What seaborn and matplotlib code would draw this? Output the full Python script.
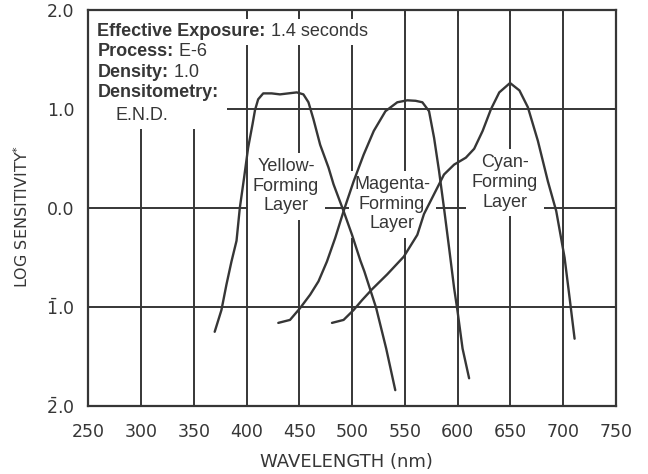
import matplotlib
matplotlib.use("Agg")
import matplotlib.pyplot as plt
import seaborn as sns
import pandas as pd

# values (wavelength in nm, log sensitivity)
yellow_nm = [369.8, 376.2, 381.0, 385.7, 390.5, 393.6, 397.7, 401.5, 405.7, 408.0,
             411.0, 415.8, 423.8, 431.7, 439.6, 447.6, 453.9, 458.7, 463.4, 469.8,
             477.7, 482.5, 492.0, 500.0, 507.9, 511.7, 522.9, 532.4, 541.0]
yellow_log = [-1.25, -1.03, -0.77, -0.54, -0.33, 0.00, 0.31, 0.61, 0.85, 0.99,
              1.10, 1.16, 1.16, 1.15, 1.16, 1.17, 1.15, 1.07, 0.90, 0.64,
              0.41, 0.24, -0.03, -0.27, -0.53, -0.64, -1.01, -1.42, -1.84]

magenta_nm = [430.1, 441.2, 450.8, 460.3, 468.2, 476.2, 484.1, 492.0, 501.5, 511.0,
              520.6, 531.7, 542.9, 552.4, 560.3, 566.7, 573.0, 577.8, 582.5, 587.2,
              592.0, 596.8, 600.0, 604.8, 611.0]
magenta_log = [-1.16, -1.13, -1.01, -0.875, -0.74, -0.54, -0.30, -0.03, 0.27, 0.54,
               0.78, 0.98, 1.07, 1.09, 1.085, 1.07, 0.98, 0.71, 0.375, 0.00,
               -0.40, -0.81, -1.04, -1.42, -1.72]

cyan_nm = [481.0, 492.0, 501.5, 509.5, 519.0, 533.3, 549.1, 561.9, 568.2, 577.7,
           587.2, 596.8, 607.9, 615.8, 623.8, 631.7, 639.6, 649.8, 658.7, 666.7,
           676.2, 685.7, 693.6, 701.5, 706.3, 711.0]
cyan_log = [-1.16, -1.13, -1.03, -0.93, -0.82, -0.67, -0.49, -0.27, -0.06, 0.14,
            0.34, 0.44, 0.51, 0.60, 0.78, 1.00, 1.17, 1.265, 1.19, 1.02,
            0.68, 0.27, -0.03, -0.50, -0.91, -1.32]

layer_names = ["Yellow-\nForming\nLayer", "Magenta-\nForming\nLayer", "Cyan-\nForming\nLayer"]
label_nm = [437.5, 538.0, 645.0]
label_log = [0.22, 0.04, 0.26]

x_ticks = [250, 300, 350, 400, 450, 500, 550, 600, 650, 700, 750]
y_ticks = [-2, -1, 0, 1, 2]
y_tick_labels = [r"$\bar{2}$.0", r"$\bar{1}$.0", "0.0", "1.0", "2.0"]

info_bold = ["Effective Exposure:", "Process:", "Density:", "Densitometry:"]
info_value = [" 1.4 seconds", " E-6", " 1.0", ""]

sns.set_theme(style="white")
plt.rcParams["font.family"] = ["DejaVu Sans"]
plt.rcParams["mathtext.default"] = "regular"

ink = "#363636"

fig = plt.figure(figsize=(6.48, 4.74), dpi=100)
ax = fig.add_axes([0.1363, 0.1435, 0.8139, 0.8348])

# grid drawn by hand so the white text boxes can hide it
for xv in x_ticks[1:-1]:
    ax.axvline(xv, color=ink, lw=1.4, zorder=1)
for yv in y_ticks[1:-1]:
    ax.axhline(yv, color=ink, lw=1.4, zorder=1)

curves = [(yellow_nm, yellow_log), (magenta_nm, magenta_log), (cyan_nm, cyan_log)]
for nm, lg in curves:
    df = pd.DataFrame({"wavelength": nm, "log_sensitivity": lg})
    sns.lineplot(data=df, x="wavelength", y="log_sensitivity", color=ink,
                 lw=1.7, ax=ax, zorder=3, solid_joinstyle="round",
                 solid_capstyle="round")

for name, xv, yv in zip(layer_names, label_nm, label_log):
    ax.text(xv, yv, name, ha="center", va="center", multialignment="center",
            family="Liberation Sans", fontsize=13, color=ink, zorder=2,
            linespacing=1.2,
            bbox=dict(boxstyle="square,pad=0.3", fc="white", ec="none"))

# header block in the upper left, on a white patch that hides the grid
ax.add_patch(plt.Rectangle((250, 0.80), 131.5, 1.2, fc="white", ec="none", zorder=1.5))
box = dict(boxstyle="square,pad=0.25", fc="white", ec="none")
line_y = [1.737, 1.54, 1.327, 1.119]
for i, (bold, value, yv) in enumerate(zip(info_bold, info_value, line_y)):
    # only the long first line reaches past the white patch
    bb = box if i == 0 else None
    z = 1.8 if i == 0 else 2.2
    t = ax.text(258.7, yv, bold, ha="left", va="baseline", fontweight="bold",
                family="Liberation Sans", fontsize=13, color=ink, zorder=z + 0.05,
                bbox=bb)
    if value:
        ax.annotate(value, xy=(1, 0), xycoords=t, ha="left", va="bottom",
                    family="Liberation Sans", fontsize=13, color=ink, zorder=z,
                    bbox=bb)
ax.text(276.2, 0.892, "E.N.D.", ha="left", va="baseline", family="Liberation Sans",
        fontsize=13, color=ink, zorder=2.2)

ax.set_xlim(250, 750)
ax.set_ylim(-2, 2)
ax.set_xticks(x_ticks)
ax.set_yticks(y_ticks)
ax.set_yticklabels(y_tick_labels)
ax.tick_params(axis="both", direction="in", length=4, width=1.2, colors=ink,
               labelsize=12.5, top=True, right=True)
ax.tick_params(axis="x", pad=12)
ax.tick_params(axis="y", pad=10)
for s in ax.spines.values():
    s.set_color(ink)
    s.set_linewidth(1.6)

ax.set_xlabel("WAVELENGTH (nm)", fontsize=13, color=ink)
ax.set_ylabel("LOG SENSITIVITY$^{*}$", fontsize=11.5, color=ink)
ax.xaxis.set_label_coords(0.49, -0.119)
ax.yaxis.set_label_coords(-0.109, 0.479)

fig.savefig("out.png", dpi=100)
